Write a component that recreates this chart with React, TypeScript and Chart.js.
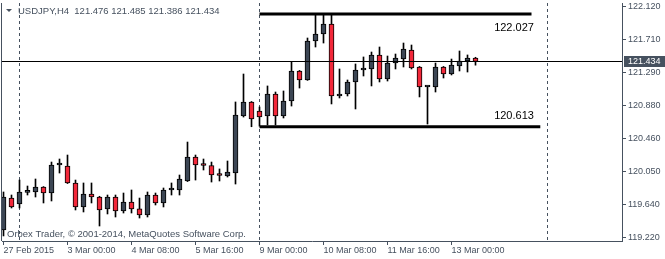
import React, { useEffect, useRef } from "react";
import { Chart, registerables } from "chart.js";

Chart.register(...registerables);

// ---- Data ----
const opens = [
  119.317, 119.718, 119.643, 119.790, 119.794, 119.857, 119.781, 120.133, 120.120, 119.907,
  119.606, 119.769, 119.731, 119.581, 119.731, 119.556, 119.668, 119.581, 119.505, 119.756,
  119.656, 119.819, 119.819, 119.932, 120.233, 120.133, 120.127, 120.007, 119.995, 120.032,
  120.748, 120.924, 120.811, 120.748, 121.024, 120.748, 120.936, 121.313, 121.200, 121.689,
  121.777, 121.903, 120.999, 121.024, 121.175, 121.325, 121.338, 121.514, 121.212, 121.413,
  121.463, 121.576, 121.363, 121.112, 121.112, 121.363, 121.275, 121.376, 121.438, 121.476,
];
const highs = [
  119.794, 119.756, 119.944, 119.869, 119.957, 119.862, 120.170, 120.208, 120.258, 119.944,
  119.907, 119.907, 119.740, 119.756, 119.756, 119.781, 119.819, 119.718, 119.794, 119.781,
  119.844, 119.907, 120.007, 120.421, 120.258, 120.208, 120.170, 120.083, 120.183, 120.924,
  121.275, 120.930, 120.861, 121.125, 121.049, 121.062, 121.426, 121.320, 121.727, 122.016,
  122.027, 122.020, 121.338, 121.200, 121.401, 121.489, 121.551, 121.614, 121.501, 121.526,
  121.664, 121.639, 121.370, 121.125, 121.413, 121.370, 121.463, 121.564, 121.514, 121.485,
];
const lows = [
  119.242, 119.593, 119.593, 119.756, 119.731, 119.656, 119.681, 120.032, 119.900, 119.568,
  119.543, 119.656, 119.367, 119.518, 119.480, 119.530, 119.530, 119.467, 119.480, 119.631,
  119.606, 119.756, 119.756, 119.925, 119.944, 120.070, 119.919, 119.932, 119.982, 119.894,
  120.735, 120.613, 120.620, 120.635, 120.635, 120.723, 120.873, 121.099, 121.195, 121.614,
  121.664, 120.899, 120.974, 120.999, 120.836, 121.250, 121.125, 121.175, 121.187, 121.338,
  121.363, 121.338, 120.987, 120.647, 121.049, 121.225, 121.263, 121.313, 121.300, 121.386,
];
const closes = [
  119.731, 119.606, 119.794, 119.800, 119.857, 119.781, 120.133, 120.140, 119.907, 119.606,
  119.769, 119.731, 119.568, 119.731, 119.556, 119.668, 119.581, 119.505, 119.756, 119.656,
  119.819, 119.825, 119.957, 120.233, 120.133, 120.127, 120.007, 120.001, 120.045, 120.760,
  120.924, 120.710, 120.735, 121.024, 120.748, 120.936, 121.313, 121.200, 121.689, 121.777,
  121.903, 120.999, 121.024, 121.175, 121.325, 121.330, 121.514, 121.212, 121.413, 121.476,
  121.589, 121.350, 121.112, 121.118, 121.363, 121.275, 121.388, 121.438, 121.476, 121.434,
];

const xLabels = [
  "27 Feb 2015", "3 Mar 00:00", "4 Mar 08:00", "5 Mar 16:00",
  "9 Mar 00:00", "10 Mar 08:00", "11 Mar 16:00", "13 Mar 00:00",
];
const xLabelIdx = [0, 8, 16, 24, 32, 40, 48, 56];
const yTicks = [122.12, 121.71, 121.29, 120.88, 120.46, 120.05, 119.64, 119.22];
const separatorIdx = [2, 32, 68];

const rangeLevels = [122.027, 120.613];
const rangeStartIdx = [32, 32];
const rangeEndIdx = [66, 67.1];

const symbolText = "USDJPY,H4";
const lastBar = { o: 121.476, h: 121.485, l: 121.386, c: 121.434 };
const footerText = "Orbex Trader, \u00a9 2001-2014, MetaQuotes Software Corp.";

const Y_MIN = 119.1787;
const Y_MAX = 122.1664;
const X_MIN = -0.1875;
const X_MAX = 77.3125;

const FONT = "'Liberation Sans', Arial, sans-serif";
const AXIS = "#46515f";
const BULL = "#3c4654";
const BEAR = "#f2283a";

export default function App() {
  const ref = useRef<HTMLCanvasElement | null>(null);

  useEffect(() => {
    const canvas = ref.current;
    if (!canvas) return;

    const overlay = {
      id: "mt4overlay",
      beforeDatasetsDraw(chart: any) {
        const { ctx, chartArea } = chart;
        const xs = chart.scales.x;
        ctx.save();
        ctx.strokeStyle = AXIS;
        ctx.lineWidth = 1;
        ctx.setLineDash([3, 3]);
        separatorIdx.forEach((i) => {
          const px = Math.round(xs.getPixelForValue(i)) - 0.5;
          ctx.beginPath();
          ctx.moveTo(px, chartArea.top);
          ctx.lineTo(px, chartArea.bottom);
          ctx.stroke();
        });
        ctx.restore();
      },
      afterDraw(chart: any) {
        const { ctx, chartArea } = chart;
        const xs = chart.scales.x;
        const ys = chart.scales.y;
        ctx.save();
        // left frame
        ctx.strokeStyle = AXIS;
        ctx.lineWidth = 1;
        ctx.beginPath();
        ctx.moveTo(1.5, chartArea.top);
        ctx.lineTo(1.5, chartArea.bottom);
        ctx.stroke();

        // current price line
        const py = Math.round(ys.getPixelForValue(lastBar.c)) + 0.5;
        ctx.strokeStyle = "#000";
        ctx.beginPath();
        ctx.moveTo(chartArea.left, py);
        ctx.lineTo(chartArea.right, py);
        ctx.stroke();

        // price box on axis
        ctx.fillStyle = AXIS;
        ctx.fillRect(chartArea.right + 2, py - 5.5, 42, 11);
        ctx.fillStyle = "#fff";
        ctx.font = `9px ${FONT}`;
        ctx.textBaseline = "middle";
        ctx.textAlign = "left";
        ctx.fillText(lastBar.c.toFixed(3), chartArea.right + 6, py + 0.5);

        // range labels
        ctx.fillStyle = "#000";
        ctx.font = `11px ${FONT}`;
        ctx.textAlign = "right";
        const lx = xs.getPixelForValue(66.3);
        ctx.fillText(rangeLevels[0].toFixed(3), lx, ys.getPixelForValue(rangeLevels[0]) + 14);
        ctx.fillText(rangeLevels[1].toFixed(3), lx, ys.getPixelForValue(rangeLevels[1]) - 10.5);

        // header
        ctx.fillStyle = AXIS;
        ctx.beginPath();
        ctx.moveTo(6, 9);
        ctx.lineTo(12, 9);
        ctx.lineTo(9, 12);
        ctx.closePath();
        ctx.fill();
        ctx.font = `9.5px ${FONT}`;
        ctx.textAlign = "left";
        const hdr = `${symbolText}  ${lastBar.o.toFixed(3)} ${lastBar.h.toFixed(3)} ${lastBar.l.toFixed(3)} ${lastBar.c.toFixed(3)}`;
        ctx.fillText(hdr, 18, 11);

        // footer
        ctx.fillText(footerText, 7, 234);
        ctx.restore();
      },
    };

    const bodies = opens.map((o, i) => ({ x: i, y: [o, closes[i]] }));
    const wicks = lows.map((l, i) => ({ x: i, y: [l, highs[i]] }));
    const bodyColors = opens.map((o, i) => (closes[i] >= o ? BULL : BEAR));

    const rangeSets = rangeLevels.map((lv, k) => ({
      type: "line" as const,
      data: [
        { x: rangeStartIdx[k], y: lv },
        { x: rangeEndIdx[k], y: lv },
      ],
      borderColor: "#000",
      borderWidth: 3,
      pointRadius: 0,
      fill: false,
      order: -1,
    }));

    const chart = new Chart(canvas, {
      type: "bar",
      data: {
        datasets: [
          ...rangeSets,
          {
            type: "bar",
            data: bodies as any,
            backgroundColor: bodyColors,
            borderColor: "#000",
            borderWidth: 1,
            borderSkipped: false,
            barThickness: 5,
            minBarLength: 2,
            grouped: false,
            order: 0,
          },
          {
            type: "bar",
            data: wicks as any,
            backgroundColor: "#000",
            borderWidth: 0,
            barThickness: 1,
            grouped: false,
            order: 1,
          },
        ] as any,
      },
      options: {
        animation: false,
        responsive: false,
        maintainAspectRatio: false,
        events: [],
        layout: { padding: { left: 2, top: 3, right: 0, bottom: 0 } },
        plugins: { legend: { display: false }, tooltip: { enabled: false } },
        scales: {
          x: {
            type: "linear",
            min: X_MIN,
            max: X_MAX,
            offset: false,
            afterBuildTicks: (s: any) => {
              s.ticks = xLabelIdx.map((v) => ({ value: v }));
            },
            afterFit: (s: any) => {
              s.height = 18;
              s.paddingLeft = 0;
              s.paddingRight = 0;
              s.paddingTop = 0;
              s.paddingBottom = 0;
            },
            grid: {
              drawOnChartArea: false,
              drawTicks: true,
              tickLength: 4,
              color: AXIS,
              offset: false,
            },
            border: { display: true, color: AXIS },
            ticks: {
              autoSkip: false,
              maxRotation: 0,
              minRotation: 0,
              align: "start",
              padding: 0,
              color: AXIS,
              font: { family: FONT, size: 9 },
              callback: (_v: any, i: number) => xLabels[i],
            },
          },
          y: {
            type: "linear",
            position: "right",
            min: Y_MIN,
            max: Y_MAX,
            afterBuildTicks: (s: any) => {
              s.ticks = yTicks.map((v) => ({ value: v }));
            },
            afterFit: (s: any) => {
              s.width = 43;
              s.paddingLeft = 0;
              s.paddingRight = 0;
              s.paddingTop = 0;
              s.paddingBottom = 0;
            },
            grid: {
              drawOnChartArea: false,
              drawTicks: true,
              tickLength: 4,
              color: AXIS,
            },
            border: { display: true, color: AXIS },
            ticks: {
              padding: 2,
              color: AXIS,
              font: { family: FONT, size: 9 },
              callback: (v: any) => Number(v).toFixed(3),
            },
          },
        },
      } as any,
      plugins: [overlay],
    });

    return () => chart.destroy();
  }, []);

  return (
    <div style={{ position: "fixed", left: 0, top: 0, width: 665, height: 259, background: "#fff" }}>
      <canvas ref={ref} width={665} height={259} style={{ width: 665, height: 259, display: "block" }} />
    </div>
  );
}
